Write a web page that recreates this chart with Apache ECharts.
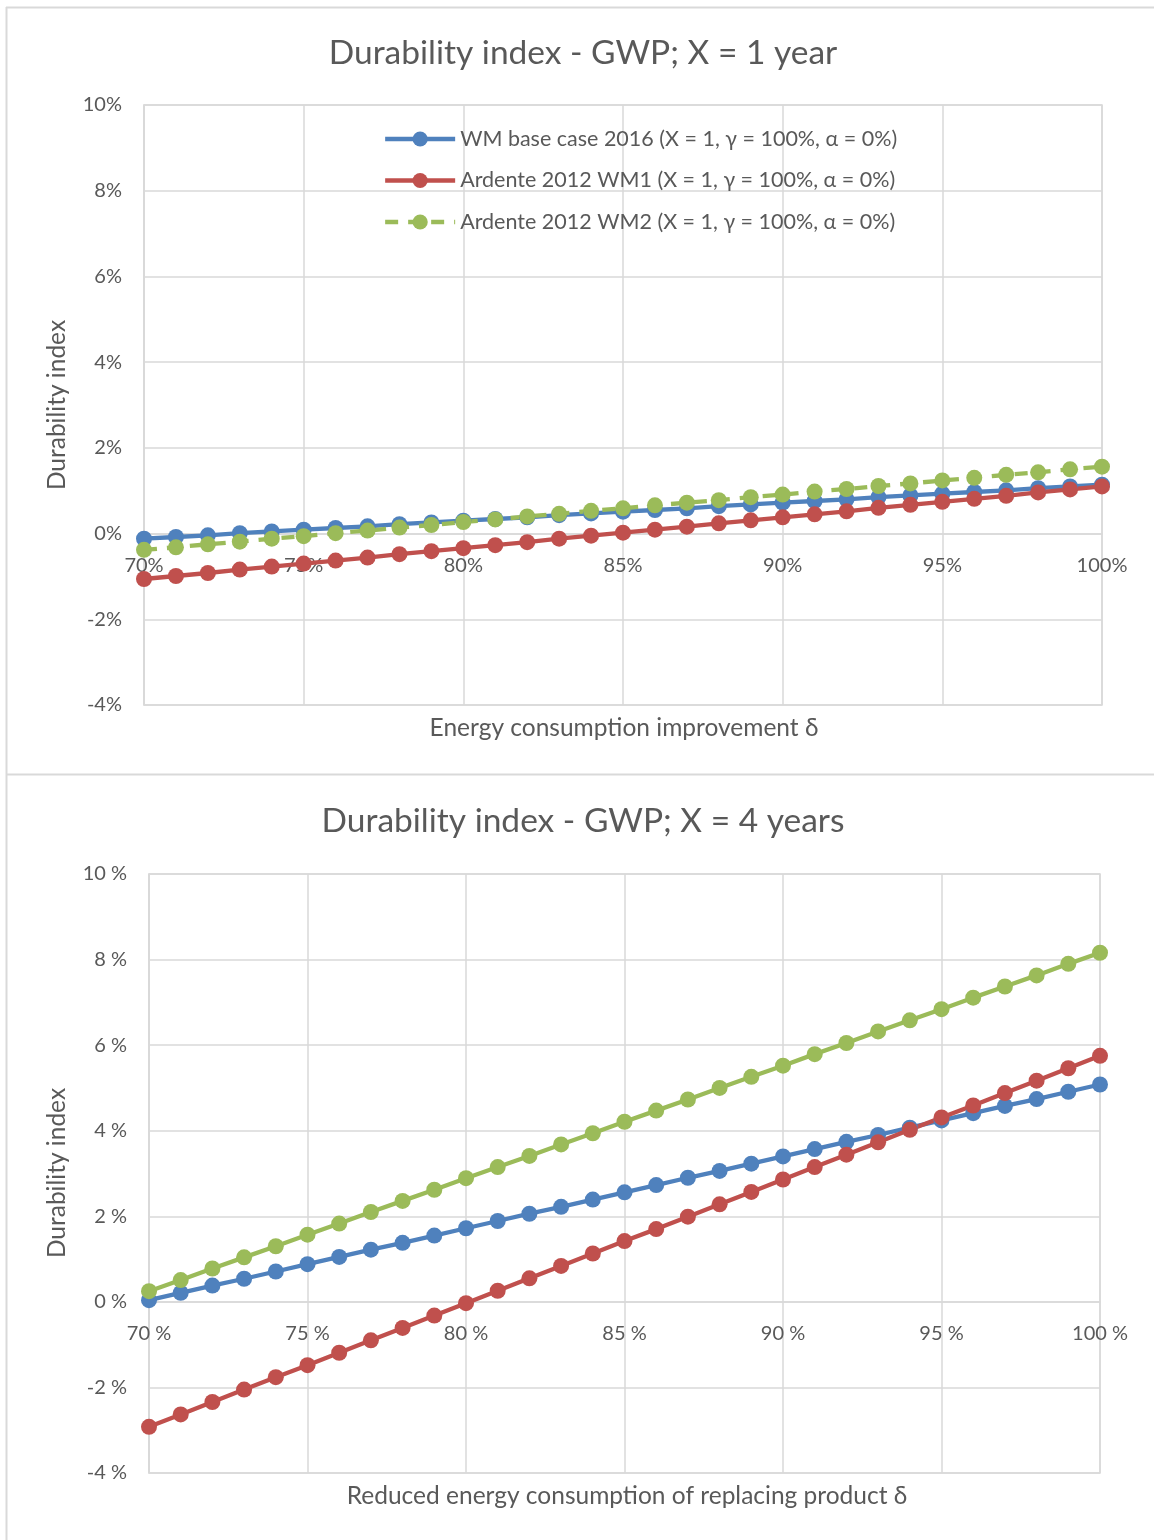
<!DOCTYPE html>
<html>
<head>
<meta charset="utf-8">
<script src="https://cdn.jsdelivr.net/npm/echarts@6/dist/echarts.min.js"></script>
<style>
  html, body { margin: 0; padding: 0; background: #fff; }
  #chart { width: 1154px; height: 1540px; }
</style>
</head>
<body>
<div id="chart"></div>
<script>
// Energy consumption improvement δ (%), 70 % … 100 % in 1 % steps
const delta = [70, 71, 72, 73, 74, 75, 76, 77, 78, 79, 80, 81, 82, 83, 84, 85,
               86, 87, 88, 89, 90, 91, 92, 93, 94, 95, 96, 97, 98, 99, 100];

const seriesNames = [
  'WM base case 2016 (X = 1, γ = 100%, α = 0%)',
  'Ardente 2012 WM1 (X = 1, γ = 100%, α = 0%)',
  'Ardente 2012 WM2 (X = 1, γ = 100%, α = 0%)'
];

// Durability index (%), X = 1 year
const wmBase1 = [-0.12, -0.08, -0.04, 0.01, 0.05, 0.09, 0.13, 0.17, 0.22, 0.26, 0.30, 0.34, 0.38, 0.43, 0.47, 0.51,
                 0.55, 0.59, 0.64, 0.68, 0.72, 0.76, 0.80, 0.85, 0.89, 0.93, 0.97, 1.01, 1.06, 1.10, 1.14];
const wm1_1 = [-1.06, -0.99, -0.92, -0.84, -0.77, -0.70, -0.63, -0.56, -0.48, -0.41, -0.34, -0.27, -0.20, -0.12, -0.05, 0.02,
               0.09, 0.16, 0.24, 0.31, 0.38, 0.45, 0.52, 0.60, 0.67, 0.74, 0.81, 0.88, 0.96, 1.03, 1.10];
const wm2_1 = [-0.38, -0.32, -0.25, -0.19, -0.12, -0.06, 0.01, 0.07, 0.14, 0.20, 0.27, 0.33, 0.40, 0.46, 0.53, 0.59,
               0.66, 0.72, 0.78, 0.85, 0.91, 0.98, 1.04, 1.11, 1.17, 1.24, 1.30, 1.37, 1.43, 1.50, 1.56];

// Durability index (%), X = 4 years
const wmBase4 = [0.04, 0.21, 0.38, 0.54, 0.71, 0.88, 1.05, 1.22, 1.38, 1.55, 1.72, 1.89, 2.06, 2.22, 2.39, 2.56,
                 2.73, 2.90, 3.06, 3.23, 3.40, 3.57, 3.74, 3.90, 4.07, 4.24, 4.41, 4.58, 4.74, 4.91, 5.08];
const wm1_4 = [-2.92, -2.63, -2.34, -2.05, -1.76, -1.48, -1.19, -0.90, -0.61, -0.32, -0.03, 0.26, 0.55, 0.84, 1.13, 1.42,
               1.70, 1.99, 2.28, 2.57, 2.86, 3.15, 3.44, 3.73, 4.02, 4.31, 4.59, 4.88, 5.17, 5.46, 5.75];
const wm2_4 = [0.25, 0.51, 0.78, 1.04, 1.30, 1.57, 1.83, 2.10, 2.36, 2.62, 2.89, 3.15, 3.41, 3.68, 3.94, 4.21,
               4.47, 4.73, 5.00, 5.26, 5.52, 5.79, 6.05, 6.32, 6.58, 6.84, 7.11, 7.37, 7.63, 7.90, 8.16];

const FONT = 'Lato, "Open Sans", sans-serif';
const TEXT = '#595959';
const GRID = '#d9d9d9';
const COLORS = ['#4f81bd', '#c0504d', '#9bbb59'];

const pairs = ys => delta.map((d, i) => [d, ys[i]]);

// The category labels sit on the 0 % line, so the x axis is lifted from the
// bottom edge of the plot (−4 % … 0 % = 4/14 of the plot height).
function xAxis(gridIndex, fmt, plotHeight) {
  return {
    type: 'value', gridIndex, min: 70, max: 100, interval: 5,
    position: 'bottom',
    offset: -plotHeight * 4 / 14,
    axisLine: { show: true, onZero: false, lineStyle: { color: GRID, width: 1.5 } },
    axisTick: { show: false },
    axisLabel: { formatter: fmt, color: TEXT, fontFamily: FONT, fontSize: 20, margin: 22 },
    splitLine: { show: true, lineStyle: { color: GRID, width: 1.5 } }
  };
}
function yAxis(gridIndex, fmt) {
  return {
    type: 'value', gridIndex, min: -4, max: 10, interval: 2,
    axisLine: { show: true, onZero: false, lineStyle: { color: GRID, width: 1.5 } },
    axisTick: { show: false },
    axisLabel: { formatter: fmt, color: TEXT, fontFamily: FONT, fontSize: 20, margin: 22 },
    splitLine: { show: true, lineStyle: { color: GRID, width: 1.5 } }
  };
}
function line(name, ys, idx, axisIdx, dashed) {
  return {
    type: 'line', name, data: pairs(ys),
    xAxisIndex: axisIdx, yAxisIndex: axisIdx,
    symbol: 'circle', symbolSize: 16,
    color: COLORS[idx],
    lineStyle: { width: 4.3, color: COLORS[idx], type: dashed ? [13, 10] : 'solid' },
    itemStyle: { color: COLORS[idx] },
    emphasis: { disabled: true },
    animation: false, z: 3
  };
}

const chart = echarts.init(document.getElementById('chart'), null, { renderer: 'canvas' });
chart.setOption({
  backgroundColor: '#ffffff',
  animation: false,
  title: [
    { text: 'Durability index - GWP; X = 1 year', left: 578, top: 31, textAlign: 'center',
      textStyle: { color: TEXT, fontFamily: FONT, fontSize: 33.5, fontWeight: 'normal' } },
    { text: 'Durability index - GWP; X = 4 years', left: 578, top: 799, textAlign: 'center',
      textStyle: { color: TEXT, fontFamily: FONT, fontSize: 33.5, fontWeight: 'normal' } },
    { text: 'Energy consumption improvement δ', left: 619, top: 711, textAlign: 'center',
      textStyle: { color: TEXT, fontFamily: FONT, fontSize: 24.5, fontWeight: 'normal' } },
    { text: 'Reduced energy consumption of replacing product δ', left: 622, top: 1479, textAlign: 'center',
      textStyle: { color: TEXT, fontFamily: FONT, fontSize: 24.5, fontWeight: 'normal' } }
  ],
  graphic: [
    { type: 'line', shape: { x1: 6.5, y1: 7, x2: 6.5, y2: 1540 }, style: { stroke: GRID, lineWidth: 2 } },
    { type: 'line', shape: { x1: 6, y1: 7.5, x2: 1154, y2: 7.5 }, style: { stroke: GRID, lineWidth: 2 } },
    { type: 'line', shape: { x1: 6, y1: 774.5, x2: 1154, y2: 774.5 }, style: { stroke: GRID, lineWidth: 2 } },
    { type: 'text', rotation: Math.PI / 2, x: 57, y: 405,
      style: { text: 'Durability index', fill: TEXT, font: '24.5px ' + FONT, textAlign: 'center', textVerticalAlign: 'middle' } },
    { type: 'text', rotation: Math.PI / 2, x: 57, y: 1173,
      style: { text: 'Durability index', fill: TEXT, font: '24.5px ' + FONT, textAlign: 'center', textVerticalAlign: 'middle' } }
  ],
  legend: {
    data: seriesNames, orient: 'vertical', left: 383, top: 128, padding: 0,
    itemWidth: 70, itemHeight: 19, itemGap: 19.5,
    lineStyle: { width: 4.3 },
    textStyle: { color: TEXT, fontFamily: FONT, fontSize: 21.5 },
    selectedMode: false
  },
  grid: [
    { left: 144, right: 52, top: 105, height: 600, show: true, borderColor: GRID, borderWidth: 1.5 },
    { left: 149, right: 54, top: 874, height: 599, show: true, borderColor: GRID, borderWidth: 1.5 }
  ],
  xAxis: [xAxis(0, v => v + '%', 600), xAxis(1, v => v + ' %', 599)],
  yAxis: [yAxis(0, v => v + '%'), yAxis(1, v => v + ' %')],
  series: [
    line(seriesNames[0], wmBase1, 0, 0, false),
    line(seriesNames[1], wm1_1, 1, 0, false),
    line(seriesNames[2], wm2_1, 2, 0, true),
    line(seriesNames[0], wmBase4, 0, 1, false),
    line(seriesNames[1], wm1_4, 1, 1, false),
    line(seriesNames[2], wm2_4, 2, 1, false)
  ]
});
</script>
</body>
</html>
